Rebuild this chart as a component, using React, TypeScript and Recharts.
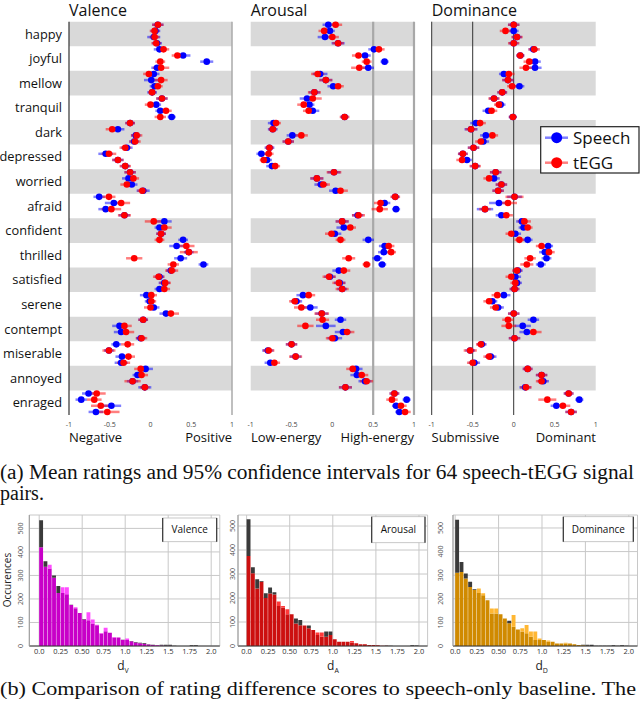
import React from 'react';
import {
  ScatterChart,
  Scatter,
  XAxis,
  YAxis,
  ErrorBar,
  ReferenceArea,
  ReferenceLine,
  BarChart,
  Bar,
  CartesianGrid,
} from 'recharts';

// rows of the rating panels (4 signal pairs per emotion)
const emotions = [
  'happy', 'joyful', 'mellow', 'tranquil', 'dark', 'depressed', 'worried', 'afraid',
  'confident', 'thrilled', 'satisfied', 'serene', 'contempt', 'miserable', 'annoyed', 'enraged',
];

const valenceSpeech = [
  0.09, 0.06, 0.04, 0.08, 0.11, 0.40, 0.69, 0.08, 0.04, 0.01, 0.05, 0.02, 0.14, 0.07, 0.12, 0.26,
  -0.25, -0.40, -0.18, -0.20, -0.29, -0.55, -0.40, -0.31, -0.25, -0.27, -0.23, -0.09, -0.63, -0.45, -0.55, -0.32,
  0.17, 0.11, 0.13, 0.40, 0.32, 0.47, 0.37, 0.65, 0.25, 0.11, 0.17, 0.11, -0.05, -0.01, 0.04, 0.19,
  -0.09, -0.38, -0.36, -0.12, -0.42, -0.51, -0.35, -0.36, -0.06, -0.16, -0.22, -0.07, -0.76, -0.85, -0.48, -0.67,
];
const valenceTegg = [
  0.09, 0.05, 0.05, 0.07, 0.16, 0.33, 0.12, 0.13, -0.02, 0.13, 0.09, 0.02, 0.14, 0.0, 0.19, 0.12,
  -0.25, -0.47, -0.17, -0.19, -0.31, -0.51, -0.40, -0.31, -0.25, -0.21, -0.29, -0.10, -0.51, -0.36, -0.48, -0.32,
  0.04, 0.17, 0.13, 0.11, 0.44, 0.47, -0.20, 0.28, 0.26, 0.10, 0.18, 0.17, 0.01, 0.01, 0.0, 0.25,
  -0.09, -0.32, -0.30, -0.11, -0.28, -0.51, -0.27, -0.33, -0.12, -0.11, -0.22, -0.07, -0.66, -0.69, -0.61, -0.53,
];
const valenceSpeechCi = [
  0.07, 0.06, 0.08, 0.06, 0.07, 0.09, 0.08, 0.07, 0.07, 0.09, 0.06, 0.06, 0.07, 0.06, 0.06, 0.05,
  0.06, 0.08, 0.06, 0.06, 0.07, 0.09, 0.07, 0.06, 0.07, 0.08, 0.07, 0.08, 0.07, 0.11, 0.09, 0.07,
  0.09, 0.06, 0.06, 0.06, 0.09, 0.06, 0.08, 0.06, 0.06, 0.06, 0.07, 0.06, 0.08, 0.06, 0.07, 0.08,
  0.06, 0.09, 0.09, 0.06, 0.06, 0.06, 0.08, 0.08, 0.09, 0.06, 0.07, 0.08, 0.08, 0.07, 0.12, 0.09,
];
const valenceTeggCi = [
  0.07, 0.06, 0.06, 0.06, 0.07, 0.07, 0.06, 0.10, 0.07, 0.08, 0.06, 0.05, 0.07, 0.07, 0.07, 0.07,
  0.06, 0.08, 0.07, 0.07, 0.07, 0.09, 0.07, 0.07, 0.07, 0.07, 0.08, 0.06, 0.08, 0.11, 0.12, 0.08,
  0.11, 0.09, 0.06, 0.06, 0.10, 0.11, 0.10, 0.07, 0.08, 0.07, 0.07, 0.07, 0.07, 0.06, 0.08, 0.10,
  0.06, 0.09, 0.10, 0.07, 0.08, 0.08, 0.08, 0.08, 0.08, 0.08, 0.10, 0.06, 0.11, 0.09, 0.12, 0.15,
];

const arousalSpeech = [
  -0.05, -0.03, -0.09, 0.07, 0.51, 0.40, 0.64, 0.44, -0.15, -0.08, 0.01, -0.22, -0.31, -0.28, -0.24, 0.15,
  -0.72, -0.73, -0.49, -0.54, -0.77, -0.87, -0.80, -0.74, 0.02, -0.19, -0.14, 0.04, 0.77, 0.64, 0.78, 0.31,
  0.12, 0.14, 0.03, 0.44, 0.64, 0.63, 0.55, 0.61, 0.08, -0.03, 0.09, 0.12, -0.36, -0.44, -0.27, -0.13,
  0.10, -0.08, 0.13, 0.03, -0.50, -0.79, -0.45, -0.76, 0.29, 0.30, 0.40, 0.16, 0.76, 0.91, 0.78, 0.82,
];
const arousalTegg = [
  0.04, -0.10, 0.0, 0.07, 0.57, 0.32, 0.42, 0.33, -0.18, -0.08, 0.07, -0.22, -0.24, -0.35, -0.29, 0.15,
  -0.69, -0.73, -0.38, -0.54, -0.77, -0.78, -0.84, -0.70, 0.02, -0.19, -0.11, 0.10, 0.77, 0.59, 0.58, 0.32,
  0.12, 0.22, -0.01, 0.10, 0.69, 0.72, 0.20, 0.42, 0.14, -0.04, 0.08, 0.12, -0.29, -0.46, -0.38, -0.13,
  -0.12, -0.33, 0.18, 0.0, -0.50, -0.78, -0.45, -0.71, 0.25, 0.36, 0.42, 0.16, 0.76, 0.73, 0.84, 0.89,
];
const arousalSpeechCi = [
  0.07, 0.06, 0.09, 0.08, 0.07, 0.07, 0.05, 0.07, 0.09, 0.08, 0.07, 0.07, 0.09, 0.06, 0.08, 0.05,
  0.07, 0.06, 0.07, 0.07, 0.06, 0.06, 0.06, 0.07, 0.08, 0.08, 0.08, 0.08, 0.05, 0.07, 0.05, 0.07,
  0.08, 0.09, 0.08, 0.07, 0.07, 0.07, 0.06, 0.05, 0.08, 0.07, 0.07, 0.06, 0.08, 0.07, 0.09, 0.08,
  0.07, 0.12, 0.10, 0.09, 0.07, 0.07, 0.07, 0.07, 0.08, 0.08, 0.08, 0.08, 0.06, 0.05, 0.05, 0.05,
];
const arousalTeggCi = [
  0.08, 0.07, 0.08, 0.07, 0.07, 0.08, 0.06, 0.10, 0.08, 0.08, 0.07, 0.08, 0.11, 0.08, 0.07, 0.06,
  0.06, 0.05, 0.08, 0.07, 0.05, 0.06, 0.05, 0.06, 0.09, 0.08, 0.08, 0.09, 0.06, 0.08, 0.10, 0.08,
  0.08, 0.07, 0.08, 0.06, 0.07, 0.06, 0.08, 0.05, 0.08, 0.08, 0.08, 0.08, 0.08, 0.07, 0.09, 0.09,
  0.08, 0.10, 0.09, 0.08, 0.07, 0.07, 0.08, 0.07, 0.08, 0.08, 0.08, 0.08, 0.06, 0.07, 0.07, 0.07,
];

const dominanceSpeech = [
  0.0, 0.0, 0.04, 0.0, 0.24, 0.08, 0.26, 0.26, -0.12, -0.07, 0.07, -0.14, -0.24, -0.16, -0.31, -0.01,
  -0.46, -0.52, -0.34, -0.37, -0.49, -0.62, -0.57, -0.47, -0.22, -0.24, -0.15, -0.19, 0.01, -0.18, -0.35, -0.15,
  0.10, 0.12, 0.02, 0.17, 0.42, 0.38, 0.40, 0.33, 0.05, 0.02, 0.04, 0.01, -0.12, -0.26, -0.19, 0.0,
  0.24, 0.11, 0.16, 0.01, -0.39, -0.53, -0.28, -0.48, 0.17, 0.34, 0.36, 0.14, 0.67, 0.80, 0.52, 0.70,
];
const dominanceTegg = [
  0.0, -0.10, 0.04, 0.0, 0.25, 0.08, 0.19, 0.15, -0.06, -0.07, -0.02, -0.14, -0.24, -0.18, -0.27, -0.01,
  -0.41, -0.52, -0.26, -0.40, -0.49, -0.62, -0.63, -0.47, -0.22, -0.30, -0.15, -0.19, 0.01, -0.07, -0.35, -0.09,
  0.13, 0.17, -0.03, 0.07, 0.34, 0.43, 0.20, 0.16, 0.04, -0.03, 0.02, 0.01, -0.20, -0.30, -0.22, 0.0,
  -0.07, -0.06, 0.24, 0.01, -0.40, -0.53, -0.30, -0.50, 0.17, 0.34, 0.34, 0.15, 0.67, 0.41, 0.60, 0.70,
];
const dominanceSpeechCi = [
  0.07, 0.06, 0.06, 0.06, 0.06, 0.05, 0.07, 0.08, 0.06, 0.07, 0.06, 0.06, 0.06, 0.06, 0.07, 0.05,
  0.07, 0.08, 0.07, 0.07, 0.07, 0.06, 0.06, 0.06, 0.07, 0.07, 0.07, 0.07, 0.09, 0.12, 0.10, 0.07,
  0.07, 0.06, 0.07, 0.06, 0.06, 0.07, 0.06, 0.06, 0.06, 0.07, 0.06, 0.06, 0.08, 0.06, 0.07, 0.07,
  0.07, 0.10, 0.09, 0.07, 0.06, 0.06, 0.07, 0.07, 0.06, 0.07, 0.07, 0.07, 0.06, 0.05, 0.07, 0.07,
];
const dominanceTeggCi = [
  0.07, 0.07, 0.07, 0.07, 0.07, 0.05, 0.07, 0.08, 0.07, 0.07, 0.06, 0.06, 0.07, 0.06, 0.07, 0.05,
  0.07, 0.07, 0.07, 0.07, 0.07, 0.06, 0.07, 0.07, 0.07, 0.07, 0.07, 0.07, 0.11, 0.11, 0.07, 0.08,
  0.08, 0.06, 0.07, 0.06, 0.07, 0.07, 0.07, 0.08, 0.06, 0.07, 0.06, 0.06, 0.07, 0.07, 0.07, 0.07,
  0.07, 0.09, 0.10, 0.07, 0.06, 0.08, 0.07, 0.07, 0.06, 0.07, 0.07, 0.07, 0.06, 0.11, 0.09, 0.07,
];

// histogram counts, 0.05 wide bins from 0.0 to 2.0
const binWidth = 0.05;
const valenceBase = [
  535, 360, 330, 300, 255, 225, 220, 175, 160, 140, 115, 110, 96, 88, 53, 63, 56, 36, 36, 27,
  25, 21, 17, 14, 13, 7, 5, 3, 5, 5, 5, 1, 0, 0, 0, 3, 3, 0, 0, 0,
];
const valenceDiff = [
  420, 337, 345, 290, 225, 250, 250, 174, 165, 140, 113, 144, 113, 90, 55, 78, 56, 38, 36, 25,
  32, 20, 15, 12, 10, 6, 4, 3, 2, 1, 1, 0, 0, 0, 0, 0, 0, 0, 0, 0,
];
const arousalBase = [
  528, 328, 278, 271, 220, 244, 224, 167, 160, 132, 132, 115, 108, 85, 85, 67, 46, 39, 60, 60,
  28, 18, 18, 18, 15, 11, 7, 7, 4, 4, 3, 1, 2, 1, 0, 0, 0, 0, 3, 2,
];
const arousalDiff = [
  375, 303, 240, 268, 200, 219, 215, 185, 167, 153, 132, 94, 87, 85, 74, 67, 56, 56, 39, 46,
  28, 18, 18, 18, 21, 11, 7, 7, 4, 4, 3, 1, 1, 0, 0, 0, 0, 0, 0, 0,
];
const dominanceBase = [
  535, 356, 307, 272, 240, 225, 215, 194, 138, 138, 134, 117, 107, 82, 70, 61, 54, 39, 25, 25,
  25, 18, 18, 11, 11, 11, 11, 7, 4, 5, 5, 5, 1, 1, 1, 1, 3, 1, 3, 1,
];
const dominanceDiff = [
  310, 314, 286, 250, 237, 244, 223, 194, 159, 159, 134, 117, 96, 131, 70, 75, 89, 61, 61, 32,
  25, 23, 18, 11, 11, 14, 11, 7, 4, 3, 1, 0, 0, 0, 0, 0, 0, 0, 0, 0,
];

const ratingTicks = [-1, -0.5, 0, 0.5, 1];
const histTicks = [0, 0.25, 0.5, 0.75, 1, 1.25, 1.5, 1.75, 2];
const histTickLabels = ['0.0', '0.25', '0.50', '0.75', '1.0', '1.25', '1.5', '1.75', '2.0'];
const countTicks = [0, 100, 200, 300, 400, 500];

const SANS = "'Open Sans', 'DejaVu Sans', sans-serif";
const SERIF = "'Liberation Serif', 'DejaVu Serif', serif";

const toPoints = (vals: number[], ci: number[]) =>
  vals.map((v, i) => ({ x: v, y: i + 0.5, ex: ci[i] }));

const dot = (color: string) => (p: any) =>
  <circle cx={p.cx} cy={p.cy} r={3.3} fill={color} />;

interface RatingProps {
  left: number;
  width: number;
  plotLeft: number;
  plotRight: number;
  speech: number[];
  tegg: number[];
  speechCi: number[];
  teggCi: number[];
  lines: { x: number; color: string; w: number }[];
  labels?: boolean;
}

const RatingPanel = ({ left, width, plotLeft, plotRight, speech, tegg, speechCi, teggCi, lines, labels }: RatingProps) => (
  <div style={{ position: 'absolute', left, top: 0 }}>
    <ScatterChart
      width={width}
      height={440}
      margin={{ top: 21.7, right: width - plotRight, bottom: 0, left: labels ? 0 : plotLeft }}
    >
      <XAxis
        type="number"
        dataKey="x"
        domain={[-1, 1]}
        ticks={ratingTicks}
        axisLine={false}
        tickLine={false}
        tickSize={0}
        tickMargin={7}
        height={25}
        tick={{ fontSize: 7, fill: '#444', fontFamily: SANS }}
      />
      <YAxis
        type="number"
        dataKey="y"
        domain={[0, 64]}
        reversed
        hide={!labels}
        width={plotLeft}
        ticks={emotions.map((_, i) => i * 4 + 2)}
        tickFormatter={(v: number) => emotions[(v - 2) / 4]}
        axisLine={{ stroke: '#333', strokeWidth: 1.2 }}
        tickLine={false}
        tickSize={0}
        tickMargin={7}
        tick={{ fontSize: 12.8, fill: '#111', fontFamily: SANS }}
      />
      {emotions.map((e, i) =>
        i % 2 === 0 ? (
          <ReferenceArea key={e} x1={-1} x2={1} y1={i * 4} y2={i * 4 + 4} fill="#d9d9d9" fillOpacity={1} stroke="none" />
        ) : null
      )}
      {lines.map(l => (
        <ReferenceLine key={l.x} x={l.x} stroke={l.color} strokeWidth={l.w} />
      ))}
      <Scatter data={toPoints(speech, speechCi)} fill="#0000ff" shape={dot('#0000ff')} isAnimationActive={false}>
        <ErrorBar dataKey="ex" direction="x" width={0} stroke="#0000ff" strokeOpacity={0.5} strokeWidth={2.5} />
      </Scatter>
      <Scatter data={toPoints(tegg, teggCi)} fill="#ff0000" shape={dot('#ff0000')} isAnimationActive={false}>
        <ErrorBar dataKey="ex" direction="x" width={0} stroke="#ff0000" strokeOpacity={0.5} strokeWidth={2.5} />
      </Scatter>
    </ScatterChart>
  </div>
);

interface HistProps {
  left: number;
  width: number;
  plotLeft: number;
  plotRight: number;
  xMin: number;
  yMax: number;
  base: number[];
  diff: number[];
  dark: string;
  light: string;
  tickGap: number;
}

const RotTick = (p: any) => (
  <text x={p.x} y={p.y} transform={`rotate(-90 ${p.x} ${p.y})`} textAnchor="middle" fontSize={7} fill="#555" fontFamily={SANS}>
    {p.payload.value}
  </text>
);

const HistPanel = ({ left, width, plotLeft, plotRight, xMin, yMax, base, diff, dark, light, tickGap }: HistProps) => {
  const data = base.map((b, i) => ({
    x: i * binWidth + binWidth / 2,
    both: Math.min(b, diff[i]),
    over: Math.max(diff[i] - b, 0),
    under: Math.max(b - diff[i], 0),
  }));
  const barW = ((plotRight - plotLeft) * binWidth) / (2.1 - xMin);
  return (
    <div style={{ position: 'absolute', left, top: 505 }}>
      <BarChart
        width={width}
        height={161}
        data={data}
        margin={{ top: 10, right: width - (plotRight - left), bottom: 0, left: 0 }}
        barCategoryGap={0}
        barGap={0}
      >
        <CartesianGrid stroke="#c8c8c8" strokeWidth={1} />
        <XAxis
          type="number"
          dataKey="x"
          domain={[xMin, 2.1]}
          ticks={histTicks}
          tickFormatter={(v: number) => histTickLabels[histTicks.indexOf(v)]}
          axisLine={{ stroke: '#333' }}
          tickLine={false}
          tickSize={0}
          tickMargin={3}
          height={20}
          allowDataOverflow
          tick={{ fontSize: 7.5, fill: '#333', fontFamily: SANS }}
        />
        <YAxis
          type="number"
          domain={[0, yMax]}
          ticks={countTicks}
          width={plotLeft - left}
          axisLine={{ stroke: '#999' }}
          tickLine={false}
          tickSize={0}
          tickMargin={tickGap}
          allowDataOverflow
          tick={RotTick}
        />
        <Bar dataKey="both" stackId="h" fill={dark} barSize={barW} isAnimationActive={false} />
        <Bar dataKey="over" stackId="h" fill={light} barSize={barW} isAnimationActive={false} />
        <Bar dataKey="under" stackId="h" fill="#3a3a3a" barSize={barW} isAnimationActive={false} />
      </BarChart>
    </div>
  );
};

const HistKey = ({ x, y, w, h, text }: { x: number; y: number; w: number; h: number; text: string }) => (
  <g>
    <rect x={x} y={y} width={w} height={h} fill="#fff" stroke="#bbb" strokeWidth={0.8} />
    <line x1={x} y1={y} x2={x} y2={y + h} stroke="#333" strokeWidth={1.2} />
    <line x1={x + w} y1={y} x2={x + w} y2={y + h} stroke="#333" strokeWidth={1.2} />
    <text x={x + w / 2} y={y + h / 2 + 3.5} textAnchor="middle" fontSize={10} fill="#111" fontFamily={SANS}>
      {text}
    </text>
  </g>
);

const SubLabel = ({ x, sub }: { x: number; sub: string }) => (
  <text x={x} y={670} textAnchor="middle" fontSize={12} fill="#222" fontFamily={SANS}>
    d
    <tspan fontSize={7} dy={3}>{sub}</tspan>
  </text>
);

export default function App() {
  return (
    <div style={{ position: 'absolute', left: 0, top: 0, width: 640, height: 701, background: '#fff', overflow: 'hidden' }}>
      <RatingPanel
        left={0}
        width={240}
        plotLeft={69}
        plotRight={232}
        speech={valenceSpeech}
        tegg={valenceTegg}
        speechCi={valenceSpeechCi}
        teggCi={valenceTeggCi}
        lines={[{ x: 1, color: '#aaa', w: 1.5 }]}
        labels
      />
      <RatingPanel
        left={240}
        width={180}
        plotLeft={10.7}
        plotRight={174}
        speech={arousalSpeech}
        tegg={arousalTegg}
        speechCi={arousalSpeechCi}
        teggCi={arousalTeggCi}
        lines={[
          { x: 0.5, color: '#a8a8a8', w: 2.2 },
          { x: 1, color: '#a8a8a8', w: 2.2 },
        ]}
      />
      <RatingPanel
        left={420}
        width={220}
        plotLeft={11.7}
        plotRight={175.7}
        speech={dominanceSpeech}
        tegg={dominanceTegg}
        speechCi={dominanceSpeechCi}
        teggCi={dominanceTeggCi}
        lines={[
          { x: -1, color: '#333', w: 1 },
          { x: -0.5, color: '#333', w: 1 },
          { x: 0, color: '#333', w: 1 },
        ]}
      />

      <HistPanel left={0} width={225} plotLeft={29.3} plotRight={219.8} xMin={-0.115} yMax={557}
        base={valenceBase} diff={valenceDiff} dark="#c800c8" light="#ff4cff" tickGap={6} />
      <HistPanel left={225} width={210} plotLeft={238} plotRight={427.6} xMin={-0.1} yMax={546}
        base={arousalBase} diff={arousalDiff} dark="#cc1010" light="#ff3a3a" tickGap={3} />
      <HistPanel left={435} width={205} plotLeft={453} plotRight={637.5} xMin={-0.025} yMax={555}
        base={dominanceBase} diff={dominanceDiff} dark="#d08a00" light="#ffb733" tickGap={10} />

      <svg width={640} height={701} style={{ position: 'absolute', left: 0, top: 0, pointerEvents: 'none' }}>
        <g fontFamily={SANS} fill="#111">
          <text x={69} y={15.5} fontSize={16}>Valence</text>
          <text x={250.7} y={15.5} fontSize={16}>Arousal</text>
          <text x={431.7} y={15.5} fontSize={16}>Dominance</text>

          <text x={69} y={442} fontSize={13}>Negative</text>
          <text x={232} y={442} fontSize={13} textAnchor="end">Positive</text>
          <text x={251} y={442} fontSize={13}>Low-energy</text>
          <text x={414} y={442} fontSize={13} textAnchor="end">High-energy</text>
          <text x={431.5} y={442} fontSize={13}>Submissive</text>
          <text x={596} y={442} fontSize={13} textAnchor="end">Dominant</text>
        </g>

        <g>
          <rect x={540.7} y={126.7} width={98.3} height={46.3} fill="#fff" stroke="#222" strokeWidth={1.2} />
          <line x1={545} y1={137.7} x2={568} y2={137.7} stroke="#0000ff" strokeOpacity={0.5} strokeWidth={2.5} />
          <circle cx={556.7} cy={137.7} r={5.5} fill="#0000ff" />
          <text x={573} y={143.8} fontSize={17} fontFamily={SANS} fill="#111">Speech</text>
          <line x1={545} y1={162.7} x2={568} y2={162.7} stroke="#ff0000" strokeOpacity={0.5} strokeWidth={2.5} />
          <circle cx={556.7} cy={162.7} r={5.5} fill="#ff0000" />
          <text x={573} y={168.8} fontSize={17} fontFamily={SANS} fill="#111">tEGG</text>
        </g>

        <g fontFamily={SERIF} fill="#111" fontSize={20}>
          <text x={0} y={478.5} textLength={634} lengthAdjust="spacingAndGlyphs">
            (a) Mean ratings and 95% confidence intervals for 64 speech-tEGG signal
          </text>
          <text x={0} y={500}>pairs.</text>
          <text x={0} y={695} fontSize={19} textLength={636} lengthAdjust="spacingAndGlyphs">
            (b) Comparison of rating difference scores to speech-only baseline. The
          </text>
        </g>

        <text x={11} y={580} transform="rotate(-90 11 580)" textAnchor="middle" fontSize={10} fontFamily={SANS} fill="#222">
          Occurences
        </text>
        <SubLabel x={123} sub="V" />
        <SubLabel x={333} sub="A" />
        <SubLabel x={541.7} sub="D" />
        <HistKey x={162.7} y={518} w={54} h={23.7} text="Valence" />
        <HistKey x={371.7} y={516.7} w={53.3} h={26} text="Arousal" />
        <HistKey x={563.3} y={516.7} w={70} h={25} text="Dominance" />
      </svg>
    </div>
  );
}
